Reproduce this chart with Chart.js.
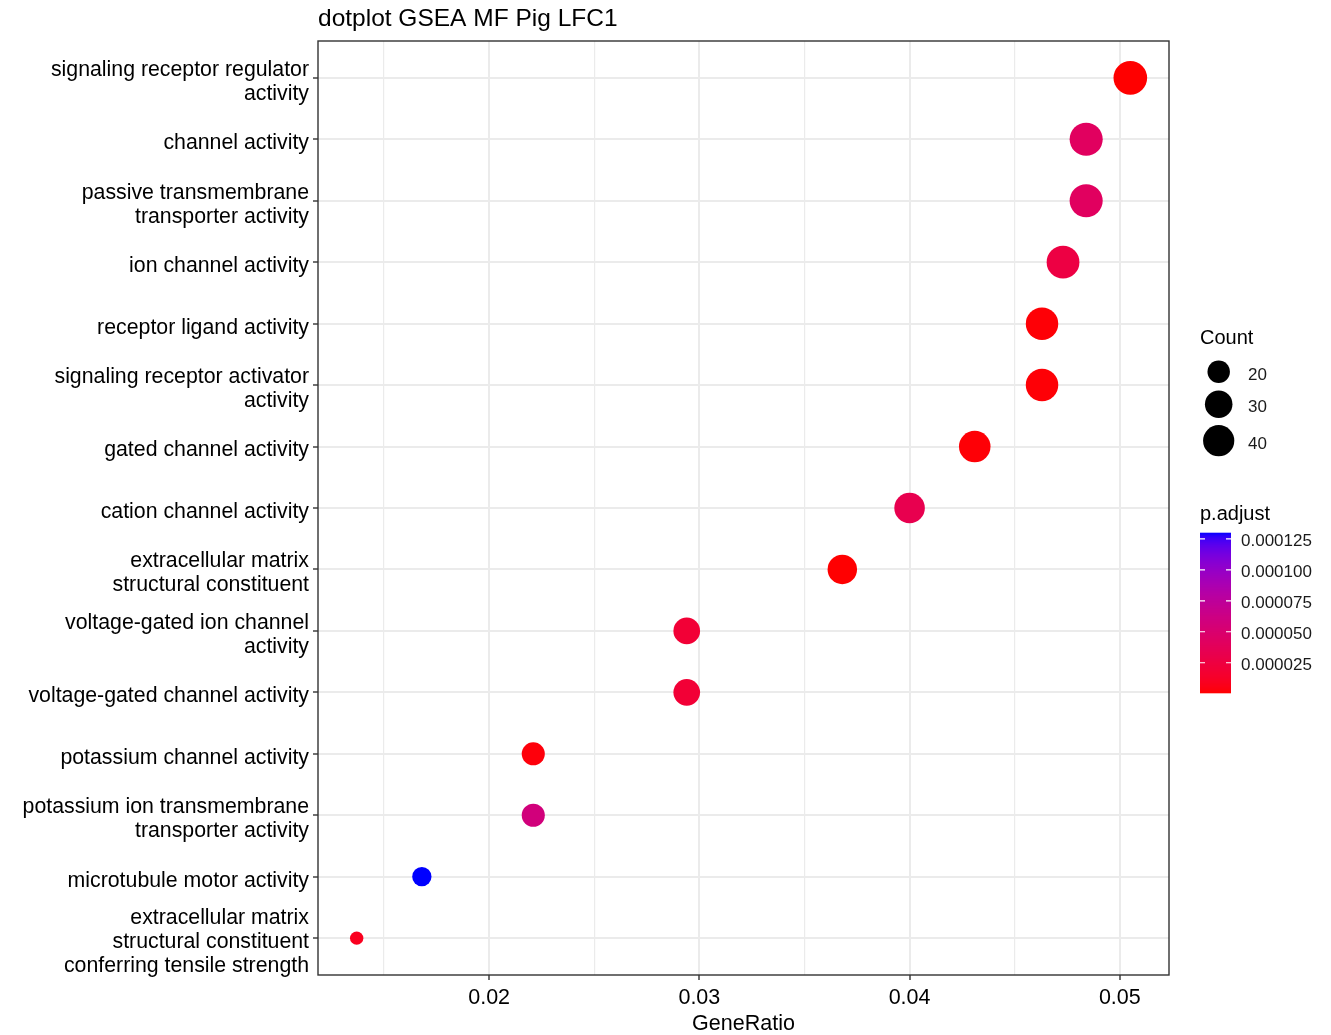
<!DOCTYPE html>
<html>
<head>
<meta charset="utf-8">
<script src="https://cdn.jsdelivr.net/npm/chart.js@4.4.0/dist/chart.umd.min.js"></script>
<style>
  html, body { margin: 0; padding: 0; background: #fff; }
  canvas { display: block; }
</style>
</head>
<body>
<canvas id="myChart" width="1331" height="1035"></canvas>
<script>
// terms, top to bottom
let termNames = [
  ["signaling receptor regulator", "activity"],
  ["channel activity"],
  ["passive transmembrane", "transporter activity"],
  ["ion channel activity"],
  ["receptor ligand activity"],
  ["signaling receptor activator", "activity"],
  ["gated channel activity"],
  ["cation channel activity"],
  ["extracellular matrix", "structural constituent"],
  ["voltage-gated ion channel", "activity"],
  ["voltage-gated channel activity"],
  ["potassium channel activity"],
  ["potassium ion transmembrane", "transporter activity"],
  ["microtubule motor activity"],
  ["extracellular matrix", "structural constituent", "conferring tensile strength"]
];
let geneRatio = [0.0505, 0.0484, 0.0484, 0.0473, 0.0463, 0.0463, 0.0431, 0.0400, 0.0368, 0.0294, 0.0294, 0.0221, 0.0221, 0.0168, 0.0137];
let geneCount = [48, 46, 46, 45, 44, 44, 41, 38, 35, 28, 28, 21, 21, 16, 13];
let pAdjust = [0.0000008, 0.000042, 0.000042, 0.000026, 0.000002, 0.000002, 0.000002, 0.000033, 0.000001, 0.0000195, 0.0000195, 0.000003, 0.000058, 0.00013, 0.000009];

let majorTicks = [0.02, 0.03, 0.04, 0.05];
let minorTicks = [0.015, 0.025, 0.035, 0.045];
let countBreaks = [20, 30, 40];
let pBreaks = [0.000025, 0.00005, 0.000075, 0.0001, 0.000125];
let pBreakLabels = ["0.000025", "0.000050", "0.000075", "0.000100", "0.000125"];

let fontFamily = "'Liberation Sans', Arial, sans-serif";

// size like scale_size(range = c(3, 8)), area based
let minCount = Math.min(...geneCount), maxCount = Math.max(...geneCount);
function dotRadius(n) {
  let size = 3 + 5 * Math.sqrt((n - minCount) / (maxCount - minCount));
  return (4.06 * size + 1.2) / 2;
}

// red -> blue gradient in Lab space
function toLin(c) { c /= 255; return c <= 0.04045 ? c / 12.92 : Math.pow((c + 0.055) / 1.055, 2.4); }
function fromLin(c) {
  c = c <= 0.0031308 ? 12.92 * c : 1.055 * Math.pow(Math.max(c, 0), 1 / 2.4) - 0.055;
  return Math.round(Math.max(0, Math.min(1, c)) * 255);
}
function rgbToLab(r, g, b) {
  r = toLin(r); g = toLin(g); b = toLin(b);
  let x = (0.4124 * r + 0.3576 * g + 0.1805 * b) / 0.95047;
  let y = 0.2126 * r + 0.7152 * g + 0.0722 * b;
  let z = (0.0193 * r + 0.1192 * g + 0.9505 * b) / 1.08883;
  let f = t => t > 0.008856 ? Math.cbrt(t) : 7.787 * t + 16 / 116;
  let fx = f(x), fy = f(y), fz = f(z);
  return [116 * fy - 16, 500 * (fx - fy), 200 * (fy - fz)];
}
function labToRgb(L, a, b) {
  let fy = (L + 16) / 116, fx = fy + a / 500, fz = fy - b / 200;
  let inv = t => t * t * t > 0.008856 ? t * t * t : (t - 16 / 116) / 7.787;
  let x = inv(fx) * 0.95047, y = inv(fy), z = inv(fz) * 1.08883;
  let r = 3.2406 * x - 1.5372 * y - 0.4986 * z;
  let g = -0.9689 * x + 1.8758 * y + 0.0415 * z;
  let bl = 0.0557 * x - 0.2040 * y + 1.0570 * z;
  return `rgb(${fromLin(r)},${fromLin(g)},${fromLin(bl)})`;
}
let lowLab = rgbToLab(255, 0, 0), highLab = rgbToLab(0, 0, 255);
let pMin = Math.min(...pAdjust), pMax = Math.max(...pAdjust);
function pColor(p) {
  let t = Math.max(0, Math.min(1, (p - pMin) / (pMax - pMin)));
  return labToRgb(lowLab[0] + t * (highLab[0] - lowLab[0]),
                  lowLab[1] + t * (highLab[1] - lowLab[1]),
                  lowLab[2] + t * (highLab[2] - lowLab[2]));
}

// ggplot style expansion
let xMin = Math.min(...geneRatio), xMax = Math.max(...geneRatio);
let xPad = (xMax - xMin) * 0.05;

// title, axis title, legends and panel border
const extras = {
  id: 'extras',
  afterDraw(chart) {
    let c = chart.ctx, a = chart.chartArea;
    c.save();
    c.strokeStyle = '#333333';
    c.lineWidth = 1.4;
    c.strokeRect(a.left, a.top, a.right - a.left, a.bottom - a.top);

    c.fillStyle = '#000';
    c.textAlign = 'left';
    c.textBaseline = 'alphabetic';
    c.font = `24.5px ${fontFamily}`;
    c.fillText('dotplot GSEA MF Pig LFC1', 318, 26);

    c.textAlign = 'center';
    c.font = `21.5px ${fontFamily}`;
    c.fillText('GeneRatio', (a.left + a.right) / 2, 1030);

    // size legend
    c.textAlign = 'left';
    c.font = `20px ${fontFamily}`;
    c.fillText('Count', 1200, 344);
    let dotY = [371.7, 404.3, 440.7];
    c.font = `17px ${fontFamily}`;
    countBreaks.forEach((n, i) => {
      c.beginPath();
      c.fillStyle = '#000';
      c.arc(1218.7, dotY[i], dotRadius(n), 0, Math.PI * 2);
      c.fill();
      c.fillStyle = '#1a1a1a';
      c.fillText(String(n), 1248, dotY[i] + 8);
    });

    // colour bar
    c.fillStyle = '#000';
    c.font = `20px ${fontFamily}`;
    c.fillText('p.adjust', 1200, 520);
    let barTop = 532.7, barBottom = 692.7, barL = 1200, barR = 1231;
    let steps = 160;
    for (let i = 0; i < steps; i++) {
      let p = pMin + (pMax - pMin) * (i + 0.5) / steps;
      c.fillStyle = pColor(p);
      let y0 = barBottom - (barBottom - barTop) * (i + 1) / steps;
      c.fillRect(barL, y0, barR - barL, (barBottom - barTop) / steps + 0.6);
    }
    c.font = `17px ${fontFamily}`;
    pBreaks.forEach((p, i) => {
      let y = barBottom - (p - pMin) / (pMax - pMin) * (barBottom - barTop);
      c.strokeStyle = '#fff';
      c.lineWidth = 1.2;
      c.beginPath();
      c.moveTo(barL, y); c.lineTo(barL + 5, y);
      c.moveTo(barR - 5, y); c.lineTo(barR, y);
      c.stroke();
      c.fillStyle = '#1a1a1a';
      c.fillText(pBreakLabels[i], 1241, y + 7.5);
    });
    c.restore();
  }
};

var ctx = document.getElementById('myChart').getContext('2d');
var chart = new Chart(ctx, {
  type: 'bubble',
  data: {
    datasets: [{
      data: geneRatio.map((g, i) => ({ x: g, y: i + 1, r: dotRadius(geneCount[i]) })),
      backgroundColor: pAdjust.map(pColor),
      borderWidth: 0,
      hoverRadius: 0,
      hoverBorderWidth: 0
    }]
  },
  options: {
    responsive: false,
    devicePixelRatio: 1,
    animation: false,
    events: [],
    layout: { padding: { top: 41, right: 162, left: 0, bottom: 0 } },
    plugins: { legend: { display: false }, tooltip: { enabled: false } },
    scales: {
      x: {
        type: 'linear',
        min: xMin - xPad,
        max: xMax + xPad,
        afterBuildTicks: s => {
          s.ticks = minorTicks.concat(majorTicks).sort((p, q) => p - q).map(v => ({ value: v }));
        },
        afterFit: s => { s.height = 60; },
        border: { display: false },
        grid: {
          color: '#EBEBEB',
          lineWidth: c => majorTicks.includes(c.tick.value) ? 2 : 1.2,
          tickColor: c => majorTicks.includes(c.tick.value) ? '#333333' : 'rgba(0,0,0,0)',
          tickLength: 5,
          tickWidth: 1.4
        },
        ticks: {
          autoSkip: false,
          maxRotation: 0,
          padding: 5,
          color: '#000',
          font: { family: fontFamily, size: 21.5 },
          callback: v => majorTicks.includes(v) ? v.toFixed(2) : ''
        }
      },
      y: {
        type: 'linear',
        reverse: true,
        min: 0.4,
        max: termNames.length + 0.6,
        afterBuildTicks: s => {
          s.ticks = termNames.map((t, i) => ({ value: i + 1 }));
        },
        afterFit: s => { s.width = 318; },
        border: { display: false },
        grid: {
          color: '#EBEBEB',
          lineWidth: 2,
          tickColor: '#333333',
          tickLength: 5,
          tickWidth: 1.4
        },
        ticks: {
          autoSkip: false,
          padding: 4,
          labelOffset: 4,
          color: '#000',
          font: { family: fontFamily, size: 21.3, lineHeight: 1.14 },
          callback: v => termNames[v - 1]
        }
      }
    }
  },
  plugins: [extras]
});
</script>
</body>
</html>
